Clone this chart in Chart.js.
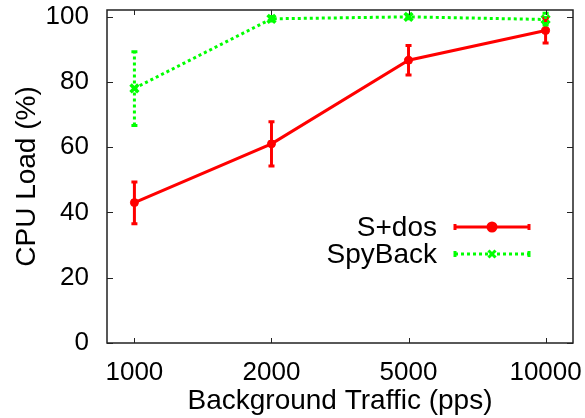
<!DOCTYPE html>
<html>
<head>
<meta charset="utf-8">
<script src="https://cdn.jsdelivr.net/npm/chart.js@4.4.0/dist/chart.umd.min.js"></script>
<style>
  html, body { margin: 0; padding: 0; background: #fff; }
  #wrap { width: 585px; height: 418px; }
</style>
</head>
<body>
<div id="wrap"><canvas id="cpuChart"></canvas></div>
<script>
// x categories (pps)
const trafego = ['1000', '2000', '5000', '10000'];
// S+dos
const sdosMedia = [43, 61, 86.6, 95.7];
const sdosMin = [36.5, 54.2, 82.1, 91.9];
const sdosMax = [49.3, 67.8, 91.1, 99.5];
// SpyBack
const spyMedia = [78, 99.3, 99.9, 99.1];
const spyMin = [66.6, 98.6, 99.3, 97.4];
const spyMax = [89.2, 100, 100.5, 101];
const yTicks = [0, 20, 40, 60, 80, 100];

const fonte = '"Liberation Sans", Arial, sans-serif';

// barras de erro + moldura estilo gnuplot
const errorBars = {
    id: 'errorBars',
    afterDatasetsDraw(chart) {
        const ctx = chart.ctx;
        const x = chart.scales.x, y = chart.scales.y;
        const series = [
            { min: sdosMin, max: sdosMax, cor: '#ff0000', dash: [] },
            { min: spyMin, max: spyMax, cor: '#00ff00', dash: [3, 3] }
        ];
        ctx.save();
        series.forEach(s => {
            ctx.strokeStyle = s.cor;
            ctx.lineWidth = 3;
            s.min.forEach((lo, i) => {
                const px = x.getPixelForValue(i);
                const y1 = y.getPixelForValue(lo);
                const y2 = y.getPixelForValue(s.max[i]);
                ctx.setLineDash(s.dash);
                ctx.beginPath();
                ctx.moveTo(px, y1);
                ctx.lineTo(px, y2);
                ctx.stroke();
                ctx.setLineDash([]);
                ctx.beginPath();
                ctx.moveTo(px - 3, y1); ctx.lineTo(px + 3, y1);
                ctx.moveTo(px - 3, y2); ctx.lineTo(px + 3, y2);
                ctx.stroke();
            });
        });
        ctx.restore();
    },
    afterDraw(chart) {
        const ctx = chart.ctx;
        const a = chart.chartArea;
        const x = chart.scales.x, y = chart.scales.y;
        ctx.save();
        ctx.strokeStyle = '#222';
        ctx.lineWidth = 1.5;
        ctx.strokeRect(a.left, a.top, a.right - a.left, a.bottom - a.top);
        ctx.lineWidth = 1;
        ctx.beginPath();
        trafego.forEach((t, i) => {
            const px = Math.round(x.getPixelForValue(i)) + 0.5;
            ctx.moveTo(px, a.bottom); ctx.lineTo(px, a.bottom - 5);
            ctx.moveTo(px, a.top); ctx.lineTo(px, a.top + 5);
        });
        yTicks.forEach(v => {
            const py = Math.round(y.getPixelForValue(v)) + 0.5;
            ctx.moveTo(a.left, py); ctx.lineTo(a.left + 6, py);
            ctx.moveTo(a.right, py); ctx.lineTo(a.right - 6, py);
        });
        ctx.stroke();

        // legenda (texto à esquerda, amostra à direita)
        const itens = [
            { nome: 'S+dos', cor: '#ff0000', dash: [], y: 227, ponto: 'circle' },
            { nome: 'SpyBack', cor: '#00ff00', dash: [3, 3], y: 254, ponto: 'crossRot' }
        ];
        ctx.font = '28px ' + fonte;
        ctx.textAlign = 'right';
        ctx.textBaseline = 'middle';
        itens.forEach(it => {
            ctx.fillStyle = '#000';
            ctx.fillText(it.nome, 437, it.y + 1);
            ctx.strokeStyle = it.cor;
            ctx.lineWidth = 3;
            ctx.setLineDash(it.dash);
            ctx.beginPath();
            ctx.moveTo(455, it.y); ctx.lineTo(529, it.y);
            ctx.stroke();
            ctx.setLineDash([]);
            ctx.beginPath();
            ctx.moveTo(455, it.y - 3); ctx.lineTo(455, it.y + 3);
            ctx.moveTo(529, it.y - 3); ctx.lineTo(529, it.y + 3);
            ctx.stroke();
            Chart.helpers.drawPoint(ctx, {
                pointStyle: it.ponto, radius: it.ponto === 'circle' ? 4 : 5,
                borderWidth: 3
            }, 492, it.y);
            if (it.ponto === 'circle') {
                ctx.fillStyle = it.cor;
                ctx.beginPath();
                ctx.arc(492, it.y, 4, 0, Math.PI * 2);
                ctx.fill();
            }
        });
        ctx.restore();
    }
};

function pontos(valores) {
    return valores.map((v, i) => ({ x: i, y: v }));
}

document.addEventListener('DOMContentLoaded', function() {
    const ctx = document.getElementById('cpuChart');
    new Chart(ctx.getContext('2d'), {
        type: 'line',
        data: {
            datasets: [{
                label: 'S+dos',
                data: pontos(sdosMedia),
                borderColor: '#ff0000',
                backgroundColor: '#ff0000',
                borderWidth: 3,
                pointStyle: 'circle',
                pointRadius: 4,
                pointBorderWidth: 1,
                tension: 0
            }, {
                label: 'SpyBack',
                data: pontos(spyMedia),
                borderColor: '#00ff00',
                backgroundColor: '#00ff00',
                borderWidth: 3,
                borderDash: [3, 3],
                pointStyle: 'crossRot',
                pointRadius: 5.5,
                pointBorderWidth: 3.5,
                tension: 0
            }]
        },
        options: {
            responsive: true,
            maintainAspectRatio: false,
            animation: false,
            layout: { padding: { top: 10, right: 12, left: 0, bottom: 0 } },
            plugins: {
                legend: { display: false },
                tooltip: { enabled: false }
            },
            scales: {
                x: {
                    type: 'linear',
                    min: -0.2,
                    max: 3.2,
                    afterBuildTicks(s) { s.ticks = trafego.map((t, i) => ({ value: i })); },
                    afterFit(s) {
                        s.height = 75;
                        s.paddingLeft = 0; s.paddingRight = 0;
                    },
                    grid: { display: false, drawTicks: false },
                    border: { display: false },
                    ticks: {
                        color: '#000',
                        padding: 14,
                        maxRotation: 0,
                        autoSkip: false,
                        font: { family: fonte, size: 26 },
                        callback: v => trafego[v]
                    },
                    title: {
                        display: true,
                        text: 'Background Traffic (pps)',
                        color: '#000',
                        font: { family: fonte, size: 28 },
                        padding: { top: 0, bottom: 0 }
                    }
                },
                y: {
                    min: 0,
                    max: 102,
                    afterBuildTicks(s) { s.ticks = yTicks.map(v => ({ value: v })); },
                    afterFit(s) {
                        s.width = 107;
                        s.paddingTop = 0; s.paddingBottom = 0;
                    },
                    grid: { display: false, drawTicks: false },
                    border: { display: false },
                    ticks: {
                        color: '#000',
                        padding: 18,
                        font: { family: fonte, size: 26 }
                    },
                    title: {
                        display: true,
                        text: 'CPU Load (%)',
                        color: '#000',
                        font: { family: fonte, size: 28 },
                        padding: { top: 10, bottom: 0 }
                    }
                }
            }
        },
        plugins: [errorBars]
    });
});
</script>
</body>
</html>
